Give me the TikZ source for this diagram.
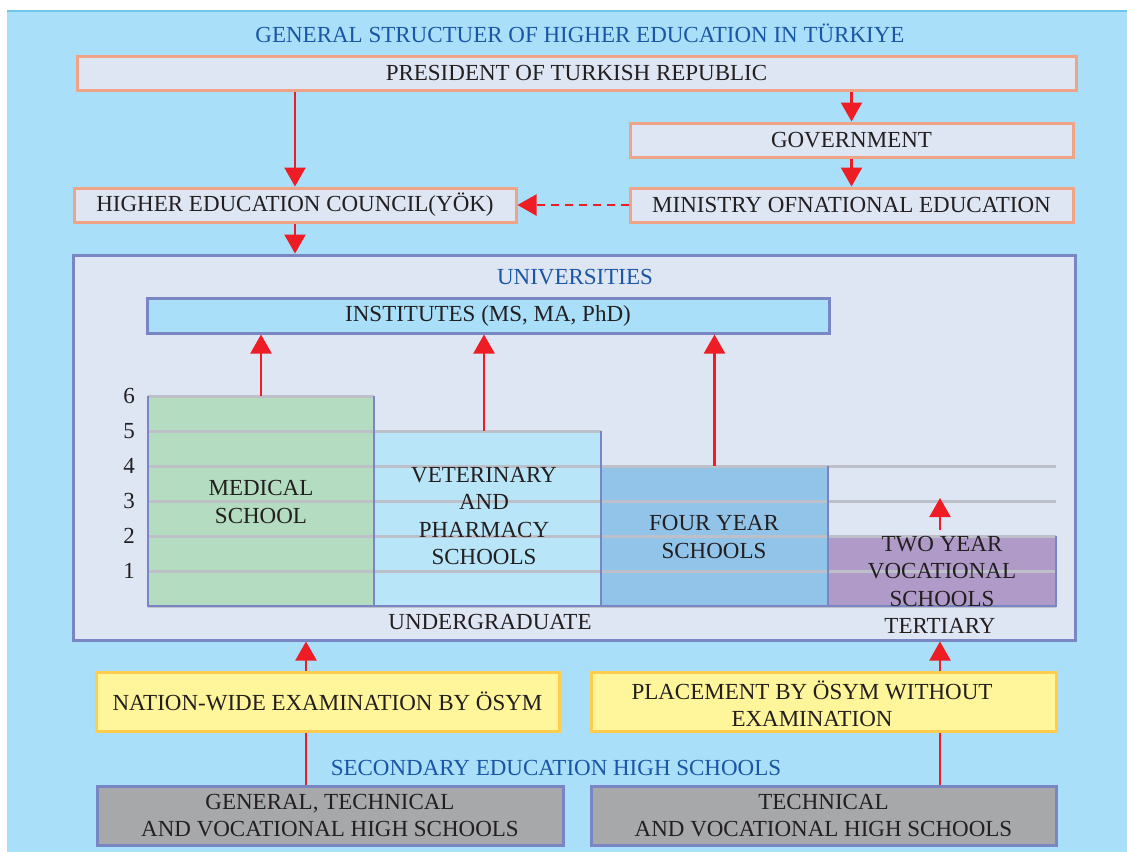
\documentclass[tikz,border=0pt]{standalone}
\usepackage{fontspec}
\setmainfont{Liberation Serif}
\usetikzlibrary{arrows.meta}
\definecolor{skybg}{HTML}{A9DFF8}
\definecolor{skyline}{HTML}{6EC6E8}
\definecolor{titleblue}{HTML}{1A56A6}
\definecolor{panel}{HTML}{DFE6F3}
\definecolor{salmon}{HTML}{EFA488}
\definecolor{frame}{HTML}{7A85C4}
\definecolor{medgreen}{HTML}{B3DCC0}
\definecolor{vetblue}{HTML}{B8E5F8}
\definecolor{fourblue}{HTML}{91C4E8}
\definecolor{twopurple}{HTML}{B09AC8}
\definecolor{gridgray}{HTML}{BDBFC9}
\definecolor{examfill}{HTML}{FFF59A}
\definecolor{examline}{HTML}{FFCC4D}
\definecolor{hsgray}{HTML}{A7A8AA}
\definecolor{ink}{HTML}{231F20}
\definecolor{arrowred}{HTML}{EE1C25}
\begin{document}
\begin{tikzpicture}[x=1pt,y=-1pt,
  every node/.style={font=\fontsize{23}{27.5}\selectfont, text=ink, inner sep=0pt, align=center},
  govbox/.style={draw=salmon, line width=3pt, fill=panel, minimum height=34pt},
  heading/.style={text=titleblue},
  framebox/.style={draw=frame, line width=3pt},
  bar/.style={minimum width=#1},
  exambox/.style={draw=examline, line width=3pt, fill=examfill, minimum height=59pt},
  schoolbox/.style={draw=frame, line width=3pt, fill=hsgray, minimum height=59pt},
  gridline/.style={draw=gridgray, line width=3pt},
  barside/.style={draw=frame, line width=2.5pt},
  redarrow/.style={draw=arrowred, line width=2.2pt, -{Triangle[width=21pt,length=19pt]}},
  redline/.style={draw=arrowred, line width=2.2pt},
  reddash/.style={redarrow, dash pattern=on 8pt off 6pt}
]
% page and background panel
\useasboundingbox (0,0) rectangle (1127,852);
\fill[white] (0,0) rectangle (1127,852);
\fill[skybg] (7,10) rectangle (1127,852);
\draw[skyline, line width=2.5pt] (7,11) -- (1127,11);

% governing bodies
\node[heading] (title) at (580,33) {GENERAL STRUCTUER OF HIGHER EDUCATION IN TÜRKIYE};
\node[govbox, minimum width=999pt] (pres) at (576.5,73) {PRESIDENT OF TURKISH REPUBLIC};
\node[govbox, minimum width=443pt] (gov) at (851.5,140) {GOVERNMENT};
\node[govbox, minimum width=443pt] (min) at (851.5,205) {MINISTRY OFNATIONAL EDUCATION};
\node[govbox, minimum width=442pt] (hec) at (295,205) {HIGHER EDUCATION COUNCIL(YÖK)};

% universities panel
\node[framebox, fill=panel, minimum width=1002pt, minimum height=385pt] (univ) at (574,447.5) {};
\node[heading] (univtitle) at (575,277) {UNIVERSITIES};
\node[framebox, fill=skybg, minimum width=682pt, minimum height=35pt] (inst) at (488,315.5) {INSTITUTES (MS, MA, PhD)};

% bars by programme length
\node[fill=medgreen, minimum width=226pt, minimum height=210pt] (med) at (261,501) {};
\node[fill=vetblue, minimum width=227pt, minimum height=175pt] (vet) at (487.5,518.5) {};
\node[fill=fourblue, minimum width=227pt, minimum height=140pt] (four) at (714.5,536) {};
\node[fill=twopurple, minimum width=228pt, minimum height=70pt] (two) at (942,571) {};

% year grid and scale
\foreach \lv/\yy/\xe in {6/396/374, 5/431/601, 4/466/1056, 3/501/1056, 2/536/1056, 1/571/1056, 0/606/1056}
  \draw[gridline] (148,\yy) -- (\xe,\yy);
\foreach \lv/\yy in {6/396, 5/431, 4/466, 3/501, 2/536, 1/571}
  \node (lv\lv) at (129,\yy) {\lv};

\draw[barside] (med.north west) |- (med.south east) -- (med.north east);
\draw[barside] (vet.south west) -- (vet.south east) -- (vet.north east);
\draw[barside] (four.south west) -- (four.south east) -- (four.north east);
\draw[barside] (two.south west) -- (two.south east) -- (two.north east);

\node (medtext) at (261,502) {MEDICAL\\SCHOOL};
\node (vettext) at (484,516) {VETERINARY\\AND\\PHARMACY\\SCHOOLS};
\node (fourtext) at (714,537) {FOUR YEAR\\SCHOOLS};
\node (twotext) at (942,571) {TWO YEAR\\VOCATIONAL\\SCHOOLS};
\node (ugrad) at (490,622) {UNDERGRADUATE};
\node (tert) at (940,626) {TERTIARY};

% entrance
\node[exambox, minimum width=463pt] (exam) at (327.5,701.5) {NATION-WIDE EXAMINATION BY ÖSYM};
\node[exambox, minimum width=465pt] (place) at (823.5,701.5) {};
\node (placetext) at (812,704) {PLACEMENT BY ÖSYM WITHOUT\\EXAMINATION};
\node[heading] (sec) at (556,768) {SECONDARY EDUCATION HIGH SCHOOLS};
\node[schoolbox, minimum width=466pt] (hs1) at (330,815.5) {GENERAL, TECHNICAL\\AND VOCATIONAL HIGH SCHOOLS};
\node[schoolbox, minimum width=465pt] (hs2) at (823.5,815.5) {TECHNICAL\\AND VOCATIONAL HIGH SCHOOLS};

% connectors
\draw[redarrow] (hec.north |- pres.south) -- (hec.north);
\draw[redarrow] (gov.north |- pres.south) -- (gov.north);
\draw[redarrow] (gov.south) -- (min.north);
\draw[reddash] (min.west) -- (hec.east);
\draw[redarrow] (hec.south) -- (hec.south |- univ.north);

\draw[redarrow] (med.north) -- (med.north |- inst.south);
\draw[redarrow] ([xshift=-3.5pt]vet.north) -- ([xshift=-3.5pt]vet.north |- inst.south);
\draw[redarrow] (four.north) -- (four.north |- inst.south);
\coordinate (twotip) at (940,498);
\draw[redarrow] ([xshift=-2pt,yshift=6pt]two.north) -- (twotip);

\draw[redline] ([xshift=-24pt]hs1.north) -- ([xshift=-24pt]hs1.north |- exam.south);
\draw[redarrow] ([xshift=-21.5pt]exam.north) -- ([xshift=-21.5pt]exam.north |- univ.south);
\draw[redline] ([xshift=116.5pt]hs2.north) -- ([xshift=116.5pt]hs2.north |- place.south);
\draw[redarrow] ([xshift=116.5pt]place.north) -- ([xshift=116.5pt]place.north |- univ.south);
\end{tikzpicture}
\end{document}
